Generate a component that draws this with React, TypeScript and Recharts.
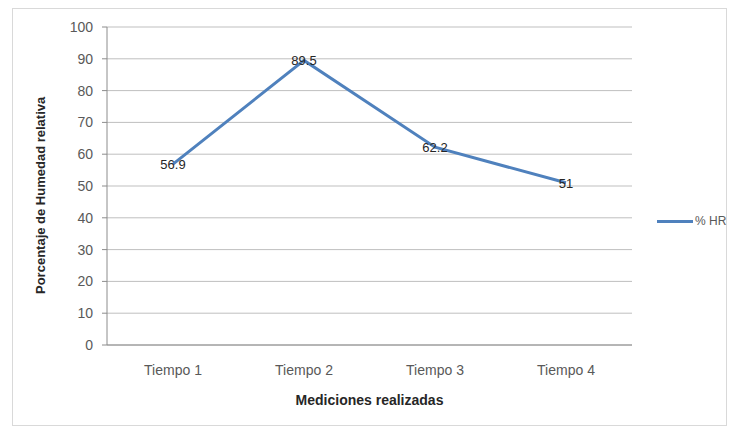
import React from "react";
import { LineChart, Line, XAxis, YAxis, CartesianGrid } from "recharts";

const categories = ["Tiempo 1", "Tiempo 2", "Tiempo 3", "Tiempo 4"];
const humedad = [56.9, 89.5, 62.2, 51];
const yTicks = [0, 10, 20, 30, 40, 50, 60, 70, 80, 90, 100];
const seriesName = "% HR";

const data = categories.map((c, i) => ({ name: c, hr: humedad[i] }));

const FONT = "'Liberation Sans', Arial, sans-serif";

const renderLabel = (props: any) => {
  const { x, y, value } = props;
  return (
    <text x={x} y={y} dy={5} textAnchor="middle" fontSize={13} fill="#262626" fontFamily={FONT}>
      {value}
    </text>
  );
};

export default function App() {
  return (
    <div style={{ position: "absolute", left: 0, top: 0, width: 732, height: 433, background: "#fff", fontFamily: FONT }}>
      <div
        style={{
          position: "absolute",
          left: 12,
          top: 8,
          width: 715,
          height: 418,
          border: "1px solid #d9d9d9",
          boxSizing: "border-box",
        }}
      />
      <div style={{ position: "absolute", left: 0, top: 0 }}>
        <LineChart width={732} height={433} data={data} margin={{ top: 27, right: 100, bottom: 18, left: 0 }}>
          <CartesianGrid vertical={false} stroke="#bfbfbf" strokeWidth={1} />
          <XAxis
            dataKey="name"
            height={70}
            padding={{ left: 66, right: 66 }}
            tickLine={false}
            axisLine={{ stroke: "#8c8c8c" }}
            tick={{ fontSize: 14, fill: "#595959", fontFamily: FONT }}
            tickMargin={14}
            label={{ value: "Mediciones realizadas", position: "insideBottom", offset: 10, fontSize: 14, fontWeight: "bold", fill: "#262626", fontFamily: FONT }}
          />
          <YAxis
            width={107}
            domain={[0, 100]}
            ticks={yTicks}
            interval={0}
            tickSize={5}
            tickMargin={9}
            tickLine={{ stroke: "#8c8c8c" }}
            axisLine={{ stroke: "#8c8c8c" }}
            tick={{ fontSize: 14, fill: "#595959", fontFamily: FONT }}
            label={{ value: "Porcentaje de Humedad relativa", angle: -90, position: "insideLeft", offset: 40, dy: 108, fontSize: 13, fontWeight: "bold", fill: "#262626", fontFamily: FONT }}
          />
          <Line
            type="linear"
            dataKey="hr"
            name={seriesName}
            stroke="#4f81bd"
            strokeWidth={3}
            dot={false}
            isAnimationActive={false}
            label={renderLabel}
          />
        </LineChart>
      </div>
      <div style={{ position: "absolute", left: 657, top: 214, display: "flex", alignItems: "center", fontSize: 12, color: "#595959" }}>
        <span style={{ display: "inline-block", width: 36, height: 3, background: "#4f81bd", marginRight: 2 }} />
        <span>{seriesName}</span>
      </div>
    </div>
  );
}
